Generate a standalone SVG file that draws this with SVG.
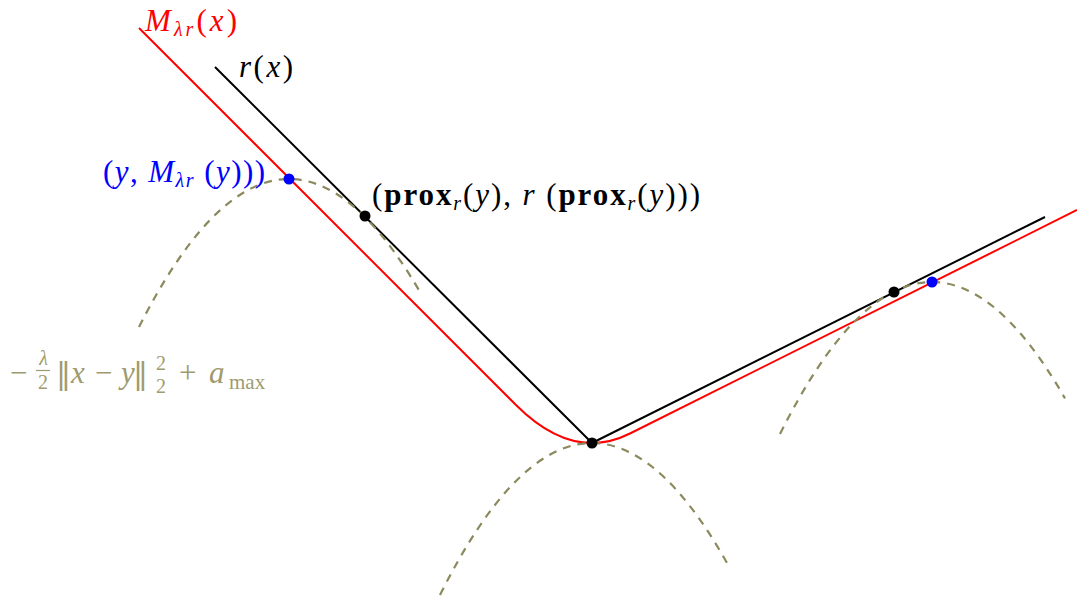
<svg xmlns="http://www.w3.org/2000/svg" width="1077" height="601" viewBox="0 0 1077 601">
<style>
.ln{fill:none;stroke-width:2;stroke-linejoin:round}
.blk{stroke:#000}
.red{stroke:#ff0000}
.para{fill:none;stroke:#8c8a5c;stroke-width:2.2;stroke-dasharray:8 7}
.t{font-family:"Liberation Serif","DejaVu Serif",serif;font-size:31px}
.i{font-style:italic}
.b{font-weight:bold}
.s{font-size:20px}
.n{font-family:"DejaVu Serif",serif;font-size:30px}
</style>
<rect width="1077" height="601" fill="#fff"/>
<g id="connectors">
<path id="r" class="ln blk" d="M215,67 L592,443 L1045,217"/>
<path id="M" class="ln red" d="M139,28 L516,405 Q573,462 630,433.5 L1077,210"/>
<path id="parab1" class="para" d="M139,327 Q279.5,49.7 420,292"/>
<path id="parab2" class="para" d="M440,595 Q584,307 728,564.7"/>
<path id="parab3" class="para" d="M780,434 Q922.5,149 1065,398.4"/>
</g>
<g id="dots">
<circle cx="289" cy="179" r="5.5" fill="#0000ff"/>
<circle cx="365" cy="216" r="5.5" fill="#000"/>
<circle cx="592" cy="443" r="5.5" fill="#000"/>
<circle cx="894" cy="292" r="5.5" fill="#000"/>
<circle cx="932" cy="282" r="5.5" fill="#0000ff"/>
</g>
<g id="label-M" fill="#ff0000" class="t"><text x="145" y="31" textLength="92"><tspan class="i">M</tspan><tspan class="i s" dy="5">λr</tspan><tspan dy="-5">(</tspan><tspan class="i">x</tspan>)</text></g>
<g id="label-r" class="t"><text x="239" y="77" textLength="54"><tspan class="i">r</tspan>(<tspan class="i">x</tspan>)</text></g>
<g id="label-y" fill="#0000ff" class="t"><text x="103" y="182" textLength="162">(<tspan class="i">y</tspan>, <tspan class="i">M</tspan><tspan class="i s" dy="5">λr</tspan><tspan dy="-5"> (</tspan><tspan class="i">y</tspan>)))</text></g>
<g id="label-prox" class="t"><text x="372" y="205" textLength="328">(<tspan class="b">prox</tspan><tspan class="i s" dy="5">r</tspan><tspan dy="-5">(</tspan><tspan class="i">y</tspan>), <tspan class="i">r</tspan> (<tspan class="b">prox</tspan><tspan class="i s" dy="5">r</tspan><tspan dy="-5">(</tspan><tspan class="i">y</tspan>)))</text></g>
<g id="label-parab" fill="#9e9b6e" class="t">
<text x="10" y="383">−</text>
<text x="43.5" y="365" class="i s" text-anchor="middle">λ</text>
<line x1="36" y1="370.5" x2="50" y2="370.5" stroke="#9e9b6e" stroke-width="1.2"/>
<text x="43" y="389" class="s" text-anchor="middle">2</text>
<text x="56" y="384" class="n">‖</text>
<text x="71" y="383" class="i">x</text>
<text x="95" y="383">−</text>
<text x="121" y="383" class="i">y</text>
<text x="133" y="384" class="n">‖</text>
<text x="156" y="370" class="s">2</text>
<text x="156" y="393" class="s">2</text>
<text x="179" y="383">+</text>
<text x="209" y="383" class="i">a</text>
<text x="229" y="389" font-size="21">max</text>
</g>
</svg>
